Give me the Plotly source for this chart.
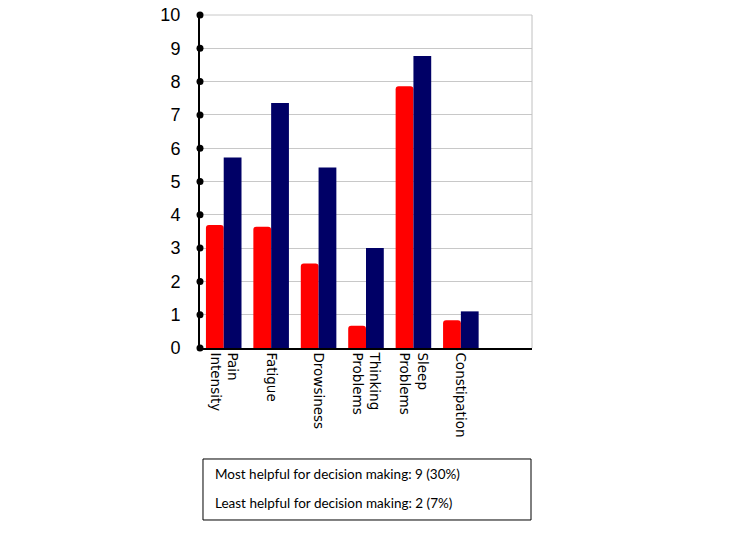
import plotly.graph_objects as go

categories = ["Pain<br>Intensity", "Fatigue", "Drowsiness", "Thinking<br>Problems",
              "Sleep<br>Problems", "Constipation"]
red_values = [3.69, 3.64, 2.54, 0.67, 7.86, 0.83]
navy_values = [5.72, 7.36, 5.42, 3.0, 8.77, 1.1]
y_ticks = list(range(0, 11))
box_lines = ["Most helpful for decision making: 9 (30%)",
             "Least helpful for decision making: 2 (7%)"]

RED = "#ff0000"
NAVY = "#000066"

fig = go.Figure()
fig.add_trace(go.Bar(x=categories, y=red_values, marker=dict(color=RED, line=dict(width=0), cornerradius=3),
                     showlegend=False))
fig.add_trace(go.Bar(x=categories, y=navy_values, marker=dict(color=NAVY, line=dict(width=0)),
                     showlegend=False))
# black dots on the value axis at every tick
fig.add_trace(go.Scatter(x=[0] * len(y_ticks), y=y_ticks, xaxis="x2", mode="markers",
                         marker=dict(color="black", size=7), cliponaxis=False,
                         showlegend=False, hoverinfo="skip"))

# top and right border of plot area
fig.add_shape(type="line", xref="paper", yref="paper", x0=1, x1=1, y0=0, y1=1,
              line=dict(color="#c0c0c0", width=1))
fig.add_shape(type="line", xref="paper", yref="paper", x0=0, x1=1, y0=1, y1=1,
              line=dict(color="#c8c8c8", width=1), layer="below")
# text box under the chart
fig.add_shape(type="rect", xref="paper", yref="paper", x0=0.009, x1=0.997, y0=-0.5165, y1=-0.3333,
              line=dict(color="black", width=1), fillcolor="white")
for txt, yy in zip(box_lines, [-0.378, -0.465]):
    fig.add_annotation(text=txt, xref="paper", yref="paper", x=0.039, y=yy, xanchor="left",
                       yanchor="middle", showarrow=False,
                       font=dict(family="Lato, Carlito, sans-serif", size=13.5, color="black"))

fig.update_layout(
    width=741, height=548,
    margin=dict(l=200, r=209, t=15, b=200),
    paper_bgcolor="white", plot_bgcolor="white",
    barmode="group", bargap=0.25, bargroupgap=0,
    xaxis=dict(type="category", range=[-0.5, 6.5], showline=True, linecolor="black", linewidth=1.5,
               tickangle=90, ticks="", showgrid=False, zeroline=False, automargin=False,
               tickfont=dict(family="DejaVu Sans", size=13.5, color="black")),
    xaxis2=dict(overlaying="x", range=[0, 1], visible=False),
    yaxis=dict(range=[0, 10], tickvals=y_ticks, showline=True, linecolor="black", linewidth=2,
               showgrid=True, gridcolor="#c8c8c8", gridwidth=1, zeroline=False, ticks="",
               ticklabelstandoff=14, automargin=False, ticklabeloverflow="allow",
               tickfont=dict(family="Liberation Sans, Arial", size=18, color="black")),
)

# drop the default body margin so the figure sits at the page corner
fig.write_html("out.html", config={"displayModeBar": False},
               post_script="document.body.style.margin = '0';")
